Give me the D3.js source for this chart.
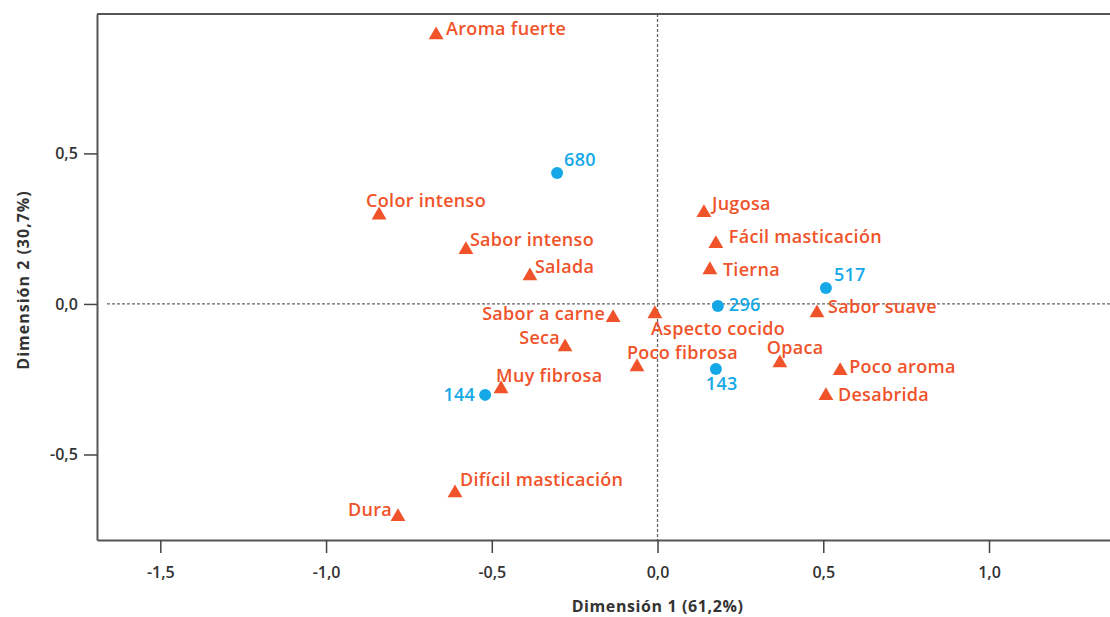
<!DOCTYPE html>
<html>
<head>
<meta charset="utf-8">
<script src="https://cdn.jsdelivr.net/npm/d3@7"></script>
<style>
  body { margin: 0; background: #fff; }
  svg { font-family: "Open Sans", sans-serif; }
</style>
</head>
<body>
<svg width="1110" height="617"></svg>
<script>
// Atributos (triángulos naranjas)
const atributos = ["Aroma fuerte", "Color intenso", "Sabor intenso", "Salada", "Jugosa",
  "Fácil masticación", "Tierna", "Sabor suave", "Sabor a carne", "Aspecto cocido", "Seca",
  "Poco fibrosa", "Opaca", "Poco aroma", "Desabrida", "Muy fibrosa", "Difícil masticación", "Dura"];
const atribDim1 = [-0.668, -0.840, -0.578, -0.385, 0.140, 0.176, 0.158, 0.481, -0.134, -0.008, -0.279,
  -0.062, 0.369, 0.551, 0.508, -0.472, -0.611, -0.783];
const atribDim2 = [0.893, 0.295, 0.180, 0.093, 0.303, 0.200, 0.113, -0.030, -0.046, -0.033, -0.143,
  -0.209, -0.196, -0.222, -0.305, -0.282, -0.628, -0.707];

// Muestras (círculos azules)
const muestras = ["680", "517", "296", "143", "144"];
const muestDim1 = [-0.303, 0.508, 0.182, 0.176, -0.520];
const muestDim2 = [0.435, 0.053, -0.007, -0.216, -0.302];

const ticksX = [-1.5, -1.0, -0.5, 0.0, 0.5, 1.0];
const ticksY = [-0.5, 0.0, 0.5];

// Ubicación de las etiquetas respecto al marcador: [dx, dy, anchor]
const posEtiqueta = {
  "Aroma fuerte": [10, -6, "start"], "Color intenso": [-13, -14, "start"],
  "Sabor intenso": [4, -10, "start"], "Salada": [5, -9, "start"], "Jugosa": [8, -9, "start"],
  "Fácil masticación": [13, -7, "start"], "Tierna": [13, 0, "start"],
  "Sabor suave": [11, -6, "start"], "Sabor a carne": [-8, -4, "end"],
  "Aspecto cocido": [-4, 15, "start"], "Seca": [-5, -9, "end"], "Poco fibrosa": [-10, -14, "start"],
  "Opaca": [-13, -15, "start"], "Poco aroma": [9, -4, "start"], "Desabrida": [12, -1, "start"],
  "Muy fibrosa": [-5, -13, "start"], "Difícil masticación": [5, -13, "start"], "Dura": [-6, -7, "end"],
  "680": [7, -13, "start"], "517": [8, -13, "start"], "296": [11, -1, "start"],
  "143": [-10, 15, "start"], "144": [-10, 0, "end"]
};

const naranja = "#f0532a";
const azul = "#14a9e6";

const svg = d3.select("svg");
const m = { left: 97, right: 1110, top: 14, bottom: 540 };

const x = d3.scaleLinear().domain([-1.691, 1.365]).range([m.left, m.right]);
const y = d3.scaleLinear().domain([-0.784, 0.963]).range([m.bottom, m.top]);

const loc = d3.formatLocale({ decimal: ",", thousands: ".", grouping: [3], currency: ["", "€"], minus: "-" });
const fmt = loc.format(".1f");

// Líneas de referencia en cero
svg.append("line")
  .attr("x1", m.left + 10).attr("x2", m.right)
  .attr("y1", y(0)).attr("y2", y(0))
  .attr("stroke", "#666").attr("stroke-width", 1.3).attr("stroke-dasharray", "3,2");
svg.append("line")
  .attr("x1", x(0)).attr("x2", x(0))
  .attr("y1", m.top).attr("y2", m.bottom)
  .attr("stroke", "#666").attr("stroke-width", 1.3).attr("stroke-dasharray", "3,2");

// Ejes
const ejeX = svg.append("g")
  .attr("transform", `translate(0,${m.bottom})`)
  .call(d3.axisBottom(x).tickValues(ticksX).tickFormat(fmt).tickSize(13).tickSizeOuter(0));
const ejeY = svg.append("g")
  .attr("transform", `translate(${m.left},0)`)
  .call(d3.axisLeft(y).tickValues(ticksY).tickFormat(fmt).tickSize(13).tickSizeOuter(0));

[ejeX, ejeY].forEach(g => {
  g.select(".domain").attr("stroke", "#555").attr("stroke-width", 2);
  g.selectAll(".tick line").attr("stroke", "#444").attr("stroke-width", 1.5);
  g.selectAll(".tick text").attr("fill", "#333").attr("font-size", 16).attr("font-weight", 600)
    .attr("font-family", "'Open Sans', sans-serif");
});
ejeX.selectAll(".tick text").attr("dy", "1.4em");
ejeY.selectAll(".tick text").attr("dx", "-0.2em");

// Borde superior
svg.append("line")
  .attr("x1", m.left).attr("x2", m.right).attr("y1", m.top).attr("y2", m.top)
  .attr("stroke", "#555").attr("stroke-width", 2);

// Títulos de ejes
svg.append("text")
  .attr("x", x(0)).attr("y", 612)
  .attr("text-anchor", "middle").attr("fill", "#333")
  .attr("font-size", 16).attr("font-weight", 700).attr("letter-spacing", 0.6)
  .text("Dimensión 1 (61,2%)");
svg.append("text")
  .attr("transform", "translate(29,280) rotate(-90)")
  .attr("text-anchor", "middle").attr("fill", "#333")
  .attr("font-size", 16).attr("font-weight", 700).attr("letter-spacing", 1)
  .text("Dimensión 2 (30,7%)");

const datosAtrib = atributos.map((d, i) => ({ nombre: d, d1: atribDim1[i], d2: atribDim2[i] }));
const datosMuest = muestras.map((d, i) => ({ nombre: d, d1: muestDim1[i], d2: muestDim2[i] }));

// Triángulos
svg.selectAll("path.atrib")
  .data(datosAtrib)
  .enter()
  .append("path")
  .attr("class", "atrib")
  .attr("d", d3.symbol(d3.symbolTriangle, 95))
  .attr("transform", d => `translate(${x(d.d1)},${y(d.d2)})`)
  .attr("fill", naranja);

// Círculos
svg.selectAll("circle.muestra")
  .data(datosMuest)
  .enter()
  .append("circle")
  .attr("class", "muestra")
  .attr("cx", d => x(d.d1))
  .attr("cy", d => y(d.d2))
  .attr("r", 6)
  .attr("fill", azul);

// Etiquetas
function etiquetas(datos, color) {
  svg.selectAll(null)
    .data(datos)
    .enter()
    .append("text")
    .attr("x", d => x(d.d1) + posEtiqueta[d.nombre][0])
    .attr("y", d => y(d.d2) + posEtiqueta[d.nombre][1])
    .attr("dy", "0.35em")
    .attr("text-anchor", d => posEtiqueta[d.nombre][2])
    .attr("fill", color)
    .attr("font-size", 18)
    .attr("font-weight", 600)
    .attr("letter-spacing", 0.3)
    .text(d => d.nombre);
}
etiquetas(datosAtrib, naranja);
etiquetas(datosMuest, azul);
</script>
</body>
</html>
